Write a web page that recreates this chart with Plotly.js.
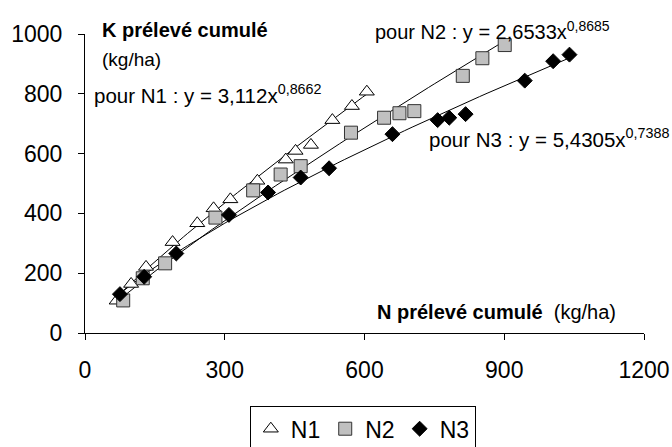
<!DOCTYPE html>
<html>
<head>
<meta charset="utf-8">
<script src="https://cdn.plot.ly/plotly-3.0.1.min.js"></script>
<style>html,body{margin:0;padding:0;background:#fff}#chart{width:672px;height:447px}</style>
</head>
<body>
<div id="chart"></div>
<script>
// Data (N prélevé cumulé vs K prélevé cumulé, kg/ha)
const n1X = [68, 99, 131, 188, 241, 276, 312, 370, 431, 452, 485, 531, 573, 605];
const n1Y = [108, 164, 221, 304, 367, 417, 447, 509, 580, 609, 629, 712, 759, 807];
const n2X = [82, 124, 172, 280, 361, 420, 463, 571, 642, 675, 707, 811, 853, 901];
const n2Y = [109, 183, 233, 386, 477, 530, 558, 670, 720, 735, 742, 860, 919, 963];
const n3X = [75, 127, 196, 309, 393, 463, 524, 660, 757, 782, 817, 944, 1005, 1040];
const n3Y = [130, 188, 266, 395, 470, 520, 551, 665, 712, 720, 732, 844, 909, 931];

// Power trendline coefficients shown on the chart (y = a * x^b)
const fitA = [3.112, 2.6533, 5.4305];
const fitB = [0.8662, 0.8685, 0.7388];
const seriesNames = ['N1', 'N2', 'N3'];
const xTicks = [0, 300, 600, 900, 1200];
const yTicks = [0, 200, 400, 600, 800, 1000];

function trend(xs, a, b) {
  const lo = Math.min(...xs), hi = Math.max(...xs);
  const tx = [], ty = [];
  const n = 60;
  for (let i = 0; i <= n; i++) {
    const x = lo + (hi - lo) * i / n;
    tx.push(x); ty.push(a * Math.pow(x, b));
  }
  return {x: tx, y: ty, type: 'scatter', mode: 'lines', line: {color: '#000', width: 1}, showlegend: false, hoverinfo: 'skip'};
}

const FONT = 'Arial, "Liberation Sans", sans-serif';
const data = [
  trend(n1X, fitA[0], fitB[0]),
  trend(n2X, fitA[1], fitB[1]),
  trend(n3X, fitA[2], fitB[2]),
  {x: n1X, y: n1Y, name: seriesNames[0], type: 'scatter', mode: 'markers',
   marker: {symbol: 'triangle-up', size: 13, color: '#fff', line: {color: '#000', width: 1}}},
  {x: n2X, y: n2Y, name: seriesNames[1], type: 'scatter', mode: 'markers',
   marker: {symbol: 'square', size: 13, color: '#c0c0c0', line: {color: '#333', width: 1}}},
  {x: n3X, y: n3Y, name: seriesNames[2], type: 'scatter', mode: 'markers',
   marker: {symbol: 'diamond', size: 11.5, color: '#000', line: {color: '#000', width: 1}}}
];

const layout = {
  width: 672, height: 447,
  margin: {l: 85, r: 28, t: 34, b: 114, autoexpand: false},
  paper_bgcolor: '#fff', plot_bgcolor: '#fff',
  font: {family: FONT, color: '#000', size: 23},
  showlegend: true,
  legend: {orientation: 'h', x: 0.497, xanchor: 'center', y: -0.245, yanchor: 'top',
           bordercolor: '#000', borderwidth: 1, font: {size: 23, family: FONT}, itemwidth: 30},
  xaxis: {range: [0, 1200], tickvals: xTicks, ticktext: xTicks.map(String), showgrid: false, zeroline: false,
          showline: true, linecolor: '#000', linewidth: 1, ticks: 'outside', ticklen: 6, tickcolor: '#000',
          tickfont: {size: 23}, ticklabelstandoff: 10, fixedrange: true},
  yaxis: {range: [0, 1000], tickvals: yTicks, ticktext: yTicks.map(String), showgrid: false, zeroline: false,
          showline: true, linecolor: '#000', linewidth: 1, ticks: 'outside', ticklen: 6, tickcolor: '#000',
          tickfont: {size: 23}, ticklabelstandoff: 11, fixedrange: true},
  annotations: [
    {text: '<b>K prélevé cumulé</b>', xref: 'paper', yref: 'paper', x: 0.027, y: 1.013, xanchor: 'left', yanchor: 'middle', showarrow: false, font: {size: 20}},
    {text: '(kg/ha)', xref: 'paper', yref: 'paper', x: 0.027, y: 0.916, xanchor: 'left', yanchor: 'middle', showarrow: false, font: {size: 19}},
    {text: '<b>N prélevé cumulé</b>  (kg/ha)', xref: 'paper', yref: 'paper', x: 0.519, y: 0.07, xanchor: 'left', yanchor: 'middle', showarrow: false, font: {size: 20}},
    {text: 'pour N1 : y = 3,112x<sup>0,8662</sup>', xref: 'paper', yref: 'paper', x: 0.0125, y: 0.8, xanchor: 'left', yanchor: 'middle', showarrow: false, font: {size: 20.5}},
    {text: 'pour N2 : y = 2,6533x<sup>0,8685</sup>', xref: 'paper', yref: 'paper', x: 0.5147, y: 1.013, xanchor: 'left', yanchor: 'middle', showarrow: false, font: {size: 20}},
    {text: 'pour N3 : y = 5,4305x<sup>0,7388</sup>', xref: 'paper', yref: 'paper', x: 0.611, y: 0.653, xanchor: 'left', yanchor: 'middle', showarrow: false, font: {size: 20.5}}
  ]
};

Plotly.newPlot('chart', data, layout, {displayModeBar: false, staticPlot: true});
</script>
</body>
</html>
